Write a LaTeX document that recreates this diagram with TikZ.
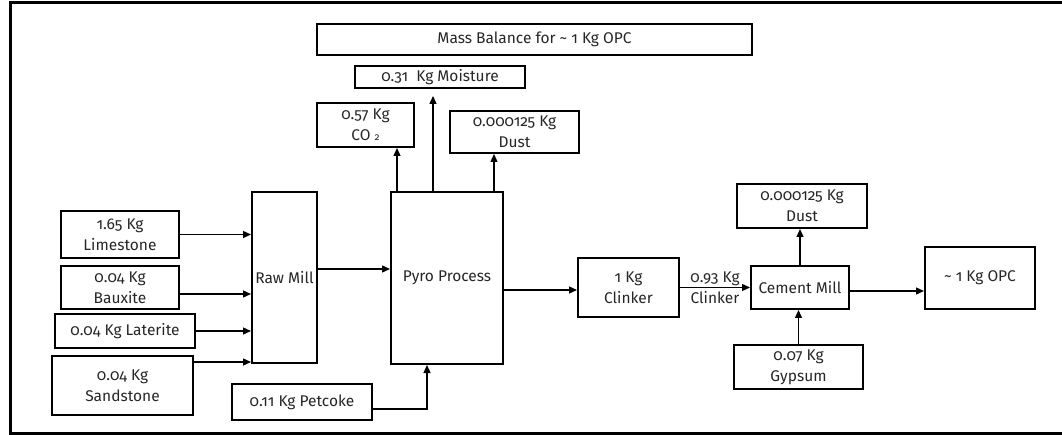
\documentclass[tikz,border=0pt]{standalone}
\usepackage{fontspec}
\setmainfont{Fira Sans}[Numbers=OldStyle]
\usetikzlibrary{arrows.meta}
\begin{document}
\begin{tikzpicture}[x=1pt,y=-1pt,
  box/.style={draw=black,line width=2pt,inner sep=0pt,align=center,
    text=black!85,font=\fontsize{15.5}{21}\selectfont},
  arr/.style={draw=black,line width=1.3pt,-{Triangle[length=8pt,width=7pt]}},
  lbl/.style={text=black!85,font=\fontsize{15.5}{21}\selectfont,align=center,inner sep=0pt}]
\useasboundingbox (0,0) rectangle (1062,435);
\draw[line width=3pt] (1075,3) -- (10,3) -- (10,433) -- (1075,433);
% boxes
\node[box,minimum width=435pt,minimum height=31pt] (mass) at (534.5,39.5) {Mass Balance for \textasciitilde{} 1 Kg OPC};
\node[box,minimum width=170pt,minimum height=22pt] (moist) at (440,77) {0.31\ \ Kg Moisture};
\node[box,minimum width=97pt,minimum height=44pt] (co2) at (365.5,125) {0.57 Kg\\CO {\fontsize{10}{10}\selectfont 2}};
\node[box,minimum width=129pt,minimum height=42pt] (dusta) at (514.5,132) {0.000125 Kg\\Dust};
\node[box,minimum width=65pt,minimum height=171pt] (raw) at (284.5,277.5) {Raw Mill};
\node[box,minimum width=112pt,minimum height=172pt] (pyro) at (447,278) {Pyro Process};
\node[box,minimum width=118pt,minimum height=47pt] (lime) at (120,234.5) {1.65 Kg\\Limestone};
\node[box,minimum width=118pt,minimum height=43pt] (baux) at (120,287.5) {0.04 Kg\\Bauxite};
\node[box,minimum width=140pt,minimum height=34pt] (later) at (125,331) {0.04 Kg Laterite};
\node[box,minimum width=141pt,minimum height=59pt] (sand) at (122.5,385.5) {0.04 Kg\\Sandstone};
\node[box,minimum width=140pt,minimum height=36pt] (pet) at (302,402) {0.11 Kg Petcoke};
\node[box,minimum width=101pt,minimum height=59pt] (clink) at (628.5,287.5) {1 Kg\\Clinker};
\node[box,minimum width=98pt,minimum height=43pt] (cmill) at (800,287.5) {Cement Mill};
\node[box,minimum width=130pt,minimum height=44pt] (dustb) at (802,206) {0.000125 Kg\\Dust};
\node[box,minimum width=129pt,minimum height=44pt] (gyp) at (798.5,367) {0.07 Kg\\Gypsum};
\node[box,minimum width=110pt,minimum height=62pt] (opc) at (980,278) {\textasciitilde{} 1 Kg OPC};
% helper coordinates
\coordinate (bx) at ([yshift=-6.5pt]baux.east);
\coordinate (sx) at ([yshift=23.5pt]sand.east);
\coordinate (rx) at ([yshift=8.5pt]raw.east);
\coordinate (px) at ([yshift=-12pt]pyro.east);
\coordinate (pe) at ([yshift=-7pt]pet.east);
\coordinate (pin) at ([xshift=-20pt]pyro.south);
\coordinate (ca) at ([xshift=7pt]pyro.north west);
\coordinate (ma) at ([xshift=43pt]pyro.north west);
\coordinate (mtop) at ([yshift=-7pt]moist.south);
\coordinate (da) at ([xshift=-10pt]pyro.north east);
\coordinate (ox) at ([yshift=-3.5pt]cmill.east);
% connectors
\draw[arr] (lime.east) -- (lime.east -| raw.west);
\draw[arr] (bx) -- (bx -| raw.west);
\draw[arr] (later.east) -- (later.east -| raw.west);
\draw[arr] (sx) -- (sx -| raw.west);
\draw[arr] (rx) -- (rx -| pyro.west);
\draw[arr] (pe) -| (pin);
\draw[arr] (ca) -- (ca |- co2.south);
\draw[arr] (ma) -- (ma |- mtop);
\draw[arr] (da) -- (da |- dusta.south);
\draw[arr] (px) -- (px -| clink.west);
\draw[arr] (clink.east) -- (cmill.west) node[lbl,midway] {0.93 Kg\\Clinker};
\draw[arr] (ox) -- (ox -| opc.west);
\draw[arr] (cmill.north) -- (cmill.north |- dustb.south);
\draw[arr] (gyp.north) -- (gyp.north |- cmill.south);
\end{tikzpicture}
\end{document}
